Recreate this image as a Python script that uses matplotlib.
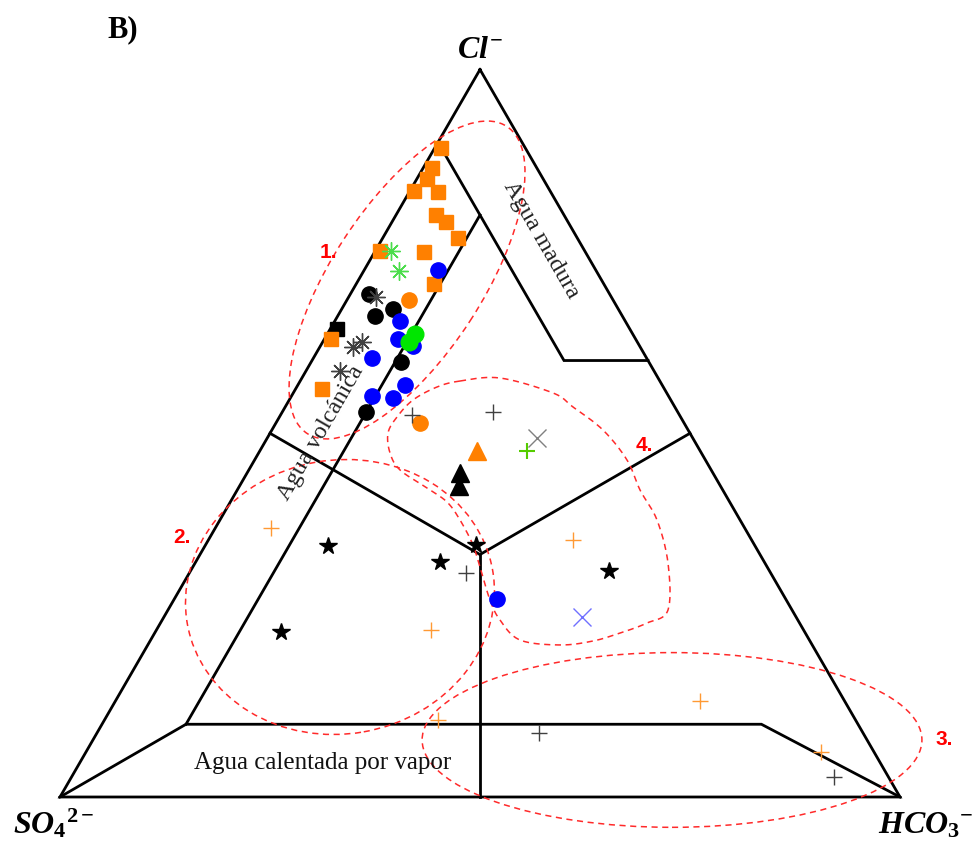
import numpy as np
import matplotlib.pyplot as plt
from matplotlib.patches import Ellipse

plt.rcParams['mathtext.fontset'] = 'custom'
plt.rcParams['mathtext.it'] = 'Liberation Serif:italic:bold'
plt.rcParams['mathtext.rm'] = 'Liberation Serif:bold'
plt.rcParams['mathtext.bf'] = 'Liberation Serif:bold'

# samples as (Cl, SO4, HCO3) in %
orange_sq = [(89.2, 10.0, 0.8), (86.4, 12.5, 1.1), (85.0, 13.8, 1.2), (83.3, 16.2, 0.5),
             (83.2, 13.4, 3.4), (80.0, 15.2, 4.8), (79.1, 14.5, 6.4), (76.9, 14.2, 8.9),
             (75.1, 24.3, 0.6), (74.9, 19.2, 5.9), (70.5, 20.2, 9.3), (63.0, 36.2, 0.8),
             (56.1, 40.7, 3.2)]
black_sq = [(64.3, 34.9, 0.8)]
green_ast = [(75.1, 23.1, 1.8), (72.3, 23.5, 4.2)]
gray_ast = [(68.8, 28.0, 3.2), (62.6, 32.8, 4.6), (61.9, 34.2, 3.9), (58.5, 37.4, 4.1)]
black_circ = [(69.1, 28.7, 2.2), (66.1, 29.4, 4.5), (67.1, 26.8, 6.1), (59.8, 29.5, 10.7),
              (52.9, 37.1, 10.0)]
blue_circ = [(72.4, 18.8, 8.8), (65.4, 26.8, 7.8), (62.9, 28.3, 8.8), (62.0, 27.0, 11.0),
             (60.3, 32.7, 7.0), (56.6, 30.6, 12.8), (55.1, 35.3, 9.6), (54.8, 32.9, 12.3),
             (27.2, 34.4, 38.4)]
green_circ = [(62.6, 27.2, 10.2), (63.6, 25.9, 10.5)]
orange_circ = [(68.3, 24.3, 7.4), (51.4, 31.4, 17.2)]
dark_plus = [(52.5, 31.9, 15.6), (52.9, 22.0, 25.1), (30.8, 36.3, 32.9), (8.8, 38.6, 52.6),
             (2.8, 6.4, 90.8)]
orange_plus = [(37.0, 56.4, 6.6), (23.0, 44.3, 32.7), (35.3, 21.3, 43.4), (10.6, 49.7, 39.7),
               (13.2, 17.2, 69.6), (6.2, 6.3, 87.5)]
green_plus = [(47.6, 20.6, 31.8)]
gray_x = [(49.3, 18.6, 32.1)]
blue_x = [(24.7, 25.5, 49.8)]
orange_tri = [(47.6, 26.5, 25.9)]
black_tri = [(44.5, 30.1, 25.4), (42.7, 31.1, 26.2)]
black_star = [(34.5, 50.8, 14.7), (34.6, 33.2, 32.2), (32.3, 38.6, 29.1), (22.7, 62.3, 15.0),
              (31.1, 19.1, 49.8)]

# field boundaries (Cl, SO4, HCO3)
outline = [(100, 0, 0), (0, 100, 0), (0, 0, 100), (100, 0, 0)]
mature = [(90, 10, 0), (60, 10, 30), (60, 0, 40)]
volcanic = [(80, 10, 10), (10, 80, 10)]
steam = [(0, 100, 0), (10, 80, 10), (10, 11.5, 78.5), (0, 0, 100)]
centre = (100 / 3, 100 / 3, 100 / 3)
mids = [(50, 50, 0), (50, 0, 50), (0, 50, 50)]

H = np.sqrt(3) / 2


def tern(pts):
    p = np.asarray(pts, float)
    cl, so4, hco3 = p[:, 0], p[:, 1], p[:, 2]
    tot = cl + so4 + hco3
    return (hco3 + cl / 2) / tot, cl * H / tot


def closed_spline(pts, n=20):
    p = np.asarray(pts, float)
    out = []
    m = len(p)
    for i in range(m):
        p0, p1, p2, p3 = p[i - 1], p[i], p[(i + 1) % m], p[(i + 2) % m]
        for t in np.linspace(0, 1, n, endpoint=False):
            out.append(0.5 * (2 * p1 + (-p0 + p2) * t + (2 * p0 - 5 * p1 + 4 * p2 - p3) * t**2
                              + (-p0 + 3 * p1 - 3 * p2 + p3) * t**3))
    out.append(out[0])
    return np.array(out)


fig = plt.figure(figsize=(9.79, 8.41), dpi=100)
ax = fig.add_axes([0, 0, 1, 1])
ax.set_xlim(-60 / 840, 919 / 840)
ax.set_ylim(-44 / 840, 797 / 840)
ax.axis('off')

lw = 2.0
for seg in [outline, mature, volcanic, steam]:
    x, y = tern(seg)
    ax.plot(x, y, color='k', lw=lw, zorder=2, solid_joinstyle='miter')
for m in mids:
    x, y = tern([m, centre])
    ax.plot(x, y, color='k', lw=lw, zorder=2)

# hand drawn groups
red = '#FF2A2A'
dash = (0, (4, 3))
ellipses = [((0.4131, 0.6155), 0.436, 0.179, 57),
            ((0.3333, 0.2381), 0.369, 0.326, 10),
            ((0.7286, 0.0679), 0.595, 0.208, 0)]
for c, w, h, a in ellipses:
    ax.add_patch(Ellipse(c, w, h, angle=a, fill=False, ec=red, lw=1.1, ls=dash, zorder=3))

group4 = [(0.4762, 0.4952), (0.5238, 0.4988), (0.5869, 0.4810), (0.6107, 0.4643),
          (0.6464, 0.4369), (0.6750, 0.4012), (0.6905, 0.3655), (0.7107, 0.3298),
          (0.7238, 0.2786), (0.7238, 0.2226), (0.6988, 0.2071), (0.6667, 0.1952),
          (0.6345, 0.1857), (0.5952, 0.1810), (0.5476, 0.1869), (0.5238, 0.2107),
          (0.5119, 0.2345), (0.5000, 0.2738), (0.4917, 0.3000), (0.4762, 0.3298),
          (0.4607, 0.3512), (0.4369, 0.3679), (0.4048, 0.3893), (0.3929, 0.4095),
          (0.3905, 0.4333), (0.4012, 0.4524), (0.4202, 0.4726), (0.4488, 0.4881)]
s4 = closed_spline(group4)
ax.plot(s4[:, 0], s4[:, 1], color=red, lw=1.1, ls=dash, zorder=3)

styles = [
    (black_sq, dict(marker='s', ms=10.5, color='k')),
    (orange_sq, dict(marker='s', ms=10.5, color='#FF8000')),
    (black_circ, dict(marker='o', ms=11, color='k')),
    (blue_circ, dict(marker='o', ms=11, color='#0000FF')),
    (green_circ, dict(marker='o', ms=12, color='#00E600')),
    (orange_circ, dict(marker='o', ms=11, color='#FF8000')),
    (green_ast, dict(marker=(8, 2, 0), ms=13, color='#4CDD4C', mew=1.0)),
    (gray_ast, dict(marker=(8, 2, 0), ms=13, color='#404040', mew=1.0)),
    (orange_tri, dict(marker='^', ms=13, color='#FF8000')),
    (black_tri, dict(marker='^', ms=13, color='k')),
    (black_star, dict(marker='*', ms=13, color='k')),
    (dark_plus, dict(marker='+', ms=12, color='#404040', mew=1.0)),
    (orange_plus, dict(marker='+', ms=12, color='#FF9933', mew=1.0)),
    (green_plus, dict(marker='+', ms=12, color='#55CC00', mew=1.5)),
    (gray_x, dict(marker='x', ms=13, color='#808080', mew=1.0)),
    (blue_x, dict(marker='x', ms=13, color='#7070FF', mew=1.0)),
]
for pts, st in styles:
    x, y = tern(pts)
    ax.plot(x, y, ls='none', mec=st['color'], zorder=4, **st)

serif = 'Liberation Serif'
ax.text(0.5726, 0.6631, 'Agua madura', rotation=-60, rotation_mode='anchor',
        ha='center', va='center', family=serif, fontsize=17.5, color='#222222', zorder=5)
ax.text(0.3107, 0.4333, 'Agua volcánica', rotation=60, rotation_mode='anchor',
        ha='center', va='center', family=serif, fontsize=17.5, color='#222222', zorder=5)
ax.text(0.3131, 0.0405, 'Agua calentada por vapor', ha='center', va='center',
        family=serif, fontsize=18, color='#111111', zorder=5)

ax.text(0.500, 0.880, r'$Cl^{-}$', ha='center', va='baseline', fontsize=23)
ax.text(-0.007, -0.043, r'$SO_{4}{}^{2-}$', ha='center', va='baseline', fontsize=23)
ax.text(1.031, -0.043, r'$HCO_{3}{}^{-}$', ha='center', va='baseline', fontsize=23)
ax.text(0.057, 0.905, 'B)', ha='left', va='baseline', family=serif, fontweight='bold',
        fontsize=22)

for lab, (x, y) in [('1.', (0.319, 0.6488)), ('2.', (0.1452, 0.3095)),
                    ('3.', (1.0524, 0.0679)), ('4.', (0.6952, 0.4190))]:
    ax.text(x, y, lab, color='#FF0000', fontweight='bold', family='Liberation Sans',
            fontsize=15, ha='center', va='center', zorder=5)

fig.savefig('out.png', dpi=100)
